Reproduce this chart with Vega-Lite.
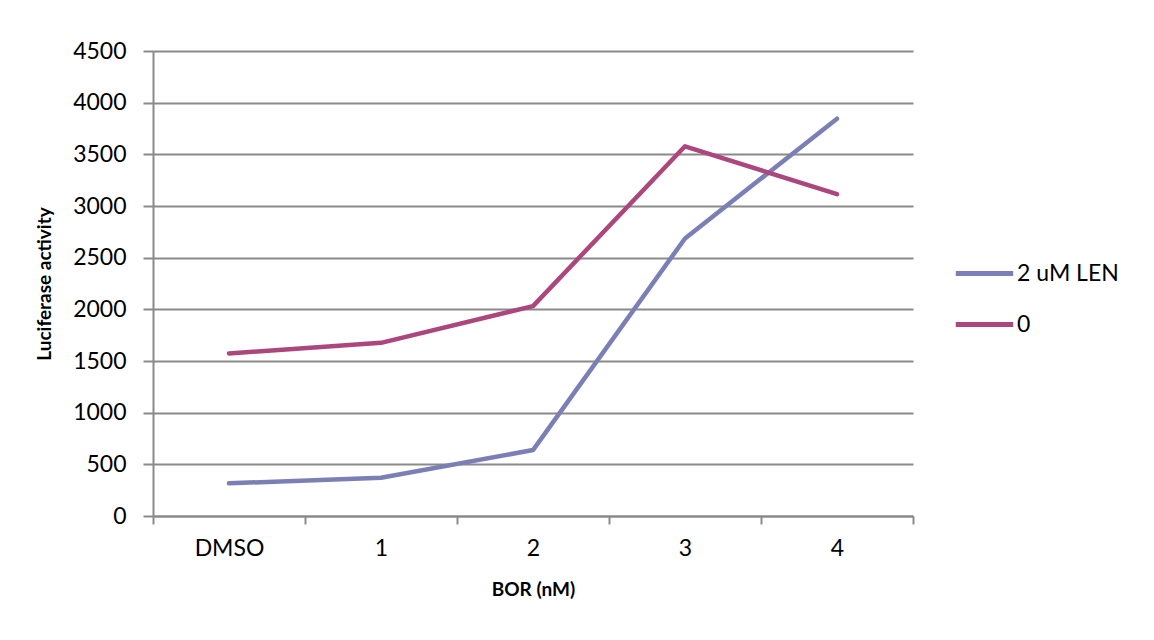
{
  "$schema": "https://vega.github.io/schema/vega-lite/v6.json",
  "width": 760,
  "height": 465,
  "autosize": "none",
  "padding": {"left": 153, "top": 51, "right": 241, "bottom": 124},
  "background": "white",
  "data": {
    "values": [
      {"bor": "DMSO", "series": "2 uM LEN", "activity": 316},
      {"bor": "1", "series": "2 uM LEN", "activity": 370},
      {"bor": "2", "series": "2 uM LEN", "activity": 638},
      {"bor": "3", "series": "2 uM LEN", "activity": 2686},
      {"bor": "4", "series": "2 uM LEN", "activity": 3845},
      {"bor": "DMSO", "series": "0", "activity": 1573},
      {"bor": "1", "series": "0", "activity": 1676},
      {"bor": "2", "series": "0", "activity": 2031},
      {"bor": "3", "series": "0", "activity": 3578},
      {"bor": "4", "series": "0", "activity": 3114}
    ]
  },
  "mark": {"type": "line", "strokeWidth": 4.5, "strokeCap": "round", "strokeJoin": "round"},
  "encoding": {
    "x": {
      "field": "bor",
      "type": "ordinal",
      "sort": ["DMSO", "1", "2", "3", "4"],
      "bandPosition": 0.5,
      "scale": {"type": "band", "paddingInner": 0, "paddingOuter": 0},
      "axis": {
        "title": "BOR (nM)",
        "titleFont": "Lato",
        "titleFontSize": 19,
        "titleFontWeight": "bold",
        "titleColor": "#000000",
        "titlePadding": 20,
        "labelFont": "Lato",
        "labelFontSize": 23,
        "labelColor": "#000000",
        "labelAngle": 0,
        "labelPadding": 13,
        "tickBand": "extent",
        "tickSize": 8,
        "tickWidth": 2,
        "tickColor": "#8a8a8a",
        "domainColor": "#8a8a8a",
        "domainWidth": 2,
        "grid": false
      }
    },
    "y": {
      "field": "activity",
      "type": "quantitative",
      "scale": {"domain": [0, 4500], "nice": false},
      "axis": {
        "title": "Luciferase activity",
        "titleFont": "Lato",
        "titleFontSize": 19,
        "titleFontWeight": "bold",
        "titleColor": "#000000",
        "titlePadding": 18,
        "values": [0, 500, 1000, 1500, 2000, 2500, 3000, 3500, 4000, 4500],
        "format": "d",
        "labelFont": "Lato",
        "labelFontSize": 23,
        "labelColor": "#000000",
        "labelPadding": 17,
        "tickSize": 10,
        "tickWidth": 2,
        "tickColor": "#8a8a8a",
        "domainColor": "#8a8a8a",
        "domainWidth": 2,
        "grid": true,
        "gridColor": "#8a8a8a",
        "gridWidth": 2
      }
    },
    "color": {
      "field": "series",
      "type": "nominal",
      "scale": {"domain": ["2 uM LEN", "0"], "range": ["#7b7fb6", "#ab477d"]},
      "legend": {
        "title": null,
        "orient": "none",
        "legendX": 800,
        "legendY": 191,
        "symbolType": "stroke",
        "symbolSize": 3300,
        "symbolStrokeWidth": 5,
        "labelFont": "Lato",
        "labelFontSize": 23,
        "labelColor": "#000000",
        "labelOffset": 1,
        "rowPadding": 7
      }
    }
  },
  "config": {
    "view": {"stroke": null}
  }
}
